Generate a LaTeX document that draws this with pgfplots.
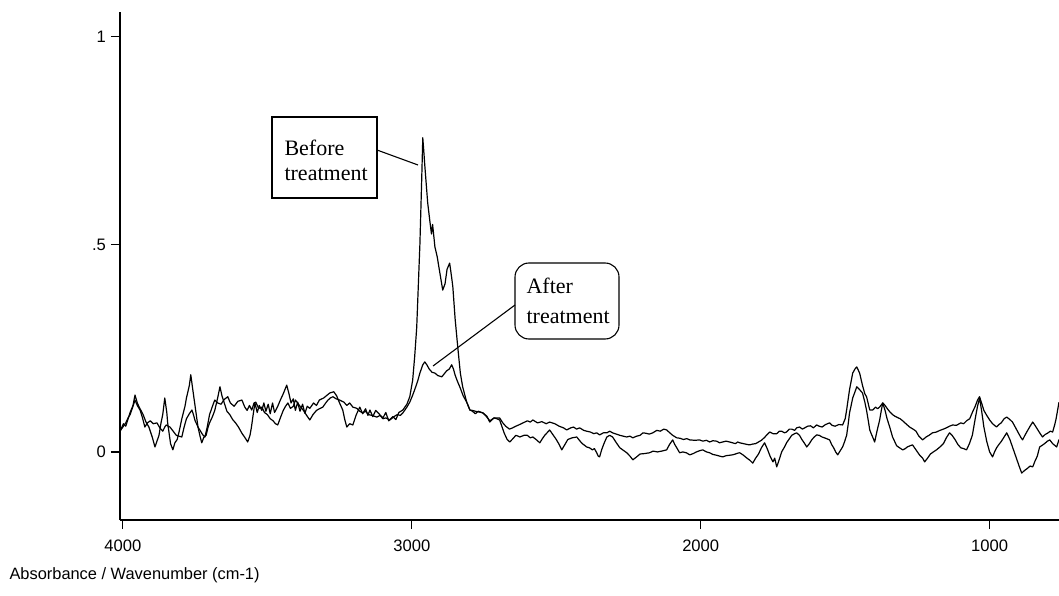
\documentclass[border=0pt]{standalone}
\usepackage{pgfplots}
\usepackage{pgfplotstable}
\pgfplotsset{compat=1.18}
\usepackage{fontspec}
\setmainfont{Liberation Serif}
\newfontfamily\arial{Liberation Sans}

% spectrum before treatment (wavenumber, absorbance)
\pgfplotstableread{
x y
4010 0.050
3998 0.068
3990 0.062
3975 0.095
3965 0.112
3958 0.137
3950 0.118
3945 0.110
3930 0.090
3920 0.072
3910 0.060
3898 0.035
3889 0.012
3875 0.040
3868 0.070
3862 0.090
3855 0.130
3848 0.095
3845 0.070
3835 0.020
3827 0.005
3820 0.022
3812 0.030
3805 0.050
3796 0.080
3785 0.110
3780 0.130
3770 0.160
3765 0.186
3758 0.150
3752 0.120
3745 0.085
3740 0.060
3733 0.038
3727 0.022
3720 0.035
3712 0.040
3705 0.060
3700 0.070
3690 0.085
3682 0.100
3672 0.130
3664 0.157
3657 0.135
3650 0.120
3640 0.098
3630 0.090
3620 0.078
3610 0.070
3600 0.060
3588 0.045
3578 0.035
3568 0.024
3560 0.040
3555 0.060
3548 0.095
3543 0.118
3535 0.095
3528 0.112
3519 0.100
3512 0.118
3505 0.098
3497 0.115
3490 0.092
3482 0.118
3475 0.095
3464 0.110
3455 0.125
3445 0.140
3433 0.161
3425 0.140
3418 0.118
3410 0.128
3403 0.100
3395 0.120
3387 0.098
3378 0.115
3370 0.093
3362 0.110
3353 0.105
3340 0.118
3330 0.112
3320 0.125
3305 0.130
3284 0.142
3270 0.145
3260 0.135
3250 0.118
3239 0.101
3232 0.078
3225 0.060
3215 0.068
3204 0.065
3192 0.090
3180 0.108
3170 0.092
3160 0.104
3152 0.088
3145 0.101
3135 0.085
3125 0.100
3111 0.090
3100 0.082
3090 0.095
3080 0.075
3066 0.085
3055 0.078
3045 0.095
3031 0.101
3017 0.115
3007 0.133
2997 0.173
2990 0.230
2983 0.300
2972 0.500
2966 0.650
2962 0.757
2958 0.720
2955 0.690
2945 0.600
2938 0.559
2932 0.525
2928 0.548
2920 0.494
2912 0.470
2905 0.440
2893 0.390
2885 0.405
2878 0.440
2869 0.455
2862 0.420
2858 0.398
2850 0.320
2841 0.253
2832 0.190
2824 0.157
2810 0.120
2799 0.101
2790 0.098
2780 0.092
2770 0.098
2754 0.094
2745 0.088
2730 0.075
2715 0.082
2696 0.082
2685 0.070
2675 0.062
2662 0.055
2651 0.058
2640 0.062
2630 0.065
2615 0.070
2600 0.075
2590 0.072
2581 0.077
2565 0.070
2550 0.073
2535 0.068
2523 0.072
2505 0.068
2490 0.062
2475 0.058
2464 0.053
2450 0.058
2440 0.060
2430 0.055
2419 0.058
2405 0.052
2395 0.050
2382 0.048
2370 0.044
2360 0.046
2350 0.041
2337 0.046
2325 0.046
2315 0.050
2305 0.046
2292 0.043
2280 0.040
2268 0.038
2256 0.036
2245 0.038
2235 0.034
2222 0.038
2210 0.040
2200 0.046
2190 0.045
2178 0.043
2166 0.046
2152 0.052
2140 0.050
2128 0.055
2118 0.053
2107 0.046
2097 0.040
2083 0.034
2072 0.033
2060 0.030
2048 0.032
2038 0.029
2020 0.028
2004 0.029
1993 0.026
1980 0.028
1969 0.024
1958 0.027
1945 0.026
1935 0.022
1924 0.024
1912 0.026
1900 0.024
1890 0.022
1880 0.020
1872 0.024
1865 0.022
1852 0.020
1840 0.018
1831 0.017
1820 0.019
1810 0.020
1800 0.024
1790 0.028
1779 0.035
1770 0.042
1761 0.048
1750 0.044
1737 0.044
1728 0.050
1720 0.050
1710 0.046
1703 0.048
1693 0.055
1685 0.055
1675 0.052
1668 0.058
1658 0.060
1648 0.055
1640 0.058
1630 0.062
1620 0.063
1610 0.058
1599 0.065
1590 0.062
1580 0.060
1568 0.066
1554 0.070
1545 0.064
1535 0.062
1522 0.066
1509 0.065
1500 0.080
1495 0.101
1485 0.150
1474 0.190
1466 0.200
1460 0.205
1450 0.190
1440 0.160
1432 0.140
1426 0.133
1415 0.101
1405 0.101
1395 0.108
1388 0.104
1381 0.108
1370 0.118
1362 0.112
1355 0.105
1345 0.096
1336 0.090
1328 0.086
1322 0.084
1310 0.080
1301 0.075
1290 0.068
1277 0.060
1265 0.055
1255 0.050
1245 0.038
1232 0.029
1220 0.036
1210 0.040
1198 0.046
1184 0.048
1172 0.052
1160 0.055
1150 0.058
1139 0.062
1128 0.065
1115 0.064
1100 0.070
1090 0.068
1080 0.075
1069 0.080
1060 0.095
1050 0.110
1042 0.125
1035 0.133
1028 0.118
1020 0.100
1010 0.088
1000 0.077
990 0.068
976 0.060
968 0.066
960 0.070
950 0.080
941 0.084
930 0.078
921 0.072
910 0.058
900 0.045
892 0.035
886 0.029
878 0.040
870 0.050
860 0.062
851 0.072
843 0.064
835 0.055
825 0.044
817 0.036
808 0.042
800 0.045
790 0.050
782 0.048
775 0.065
770 0.080
765 0.100
760 0.120
}\before

% spectrum after treatment (wavenumber, absorbance)
\pgfplotstableread{
x y
4010 0.050
4000 0.060
3990 0.070
3982 0.082
3975 0.090
3966 0.108
3958 0.125
3950 0.112
3940 0.100
3932 0.082
3924 0.060
3915 0.070
3905 0.075
3895 0.068
3882 0.070
3872 0.058
3862 0.050
3855 0.060
3850 0.065
3843 0.062
3837 0.060
3826 0.050
3815 0.040
3806 0.038
3796 0.036
3788 0.060
3780 0.080
3770 0.092
3761 0.101
3755 0.088
3750 0.075
3745 0.068
3740 0.060
3733 0.052
3727 0.045
3722 0.040
3716 0.036
3708 0.060
3700 0.090
3690 0.110
3682 0.125
3672 0.118
3660 0.115
3650 0.126
3637 0.133
3628 0.118
3615 0.110
3602 0.122
3588 0.125
3578 0.108
3570 0.100
3562 0.112
3554 0.101
3546 0.118
3540 0.120
3530 0.105
3519 0.108
3510 0.095
3500 0.090
3490 0.080
3480 0.075
3472 0.068
3464 0.065
3455 0.082
3445 0.100
3437 0.110
3429 0.118
3420 0.105
3410 0.110
3403 0.125
3395 0.118
3385 0.108
3375 0.100
3364 0.088
3353 0.077
3342 0.090
3330 0.100
3320 0.104
3308 0.108
3298 0.118
3290 0.125
3282 0.130
3273 0.133
3262 0.128
3250 0.125
3235 0.120
3225 0.112
3215 0.118
3204 0.108
3190 0.105
3180 0.098
3170 0.094
3160 0.098
3150 0.090
3138 0.088
3121 0.084
3110 0.088
3100 0.080
3090 0.082
3076 0.077
3062 0.085
3050 0.090
3040 0.088
3031 0.094
3017 0.108
3007 0.120
2998 0.135
2990 0.150
2980 0.170
2972 0.190
2962 0.210
2955 0.217
2948 0.210
2940 0.200
2930 0.192
2920 0.190
2910 0.184
2896 0.181
2888 0.188
2880 0.195
2870 0.200
2862 0.210
2856 0.200
2850 0.185
2842 0.170
2834 0.157
2822 0.135
2810 0.120
2799 0.101
2790 0.100
2780 0.098
2765 0.096
2754 0.094
2740 0.086
2730 0.072
2722 0.078
2715 0.082
2706 0.080
2696 0.077
2680 0.045
2670 0.030
2661 0.024
2650 0.032
2640 0.040
2632 0.038
2626 0.036
2612 0.040
2600 0.040
2590 0.034
2581 0.036
2570 0.030
2557 0.022
2548 0.032
2540 0.040
2532 0.046
2523 0.053
2512 0.042
2500 0.030
2490 0.018
2481 0.005
2470 0.018
2460 0.030
2445 0.034
2429 0.036
2420 0.028
2410 0.020
2402 0.016
2395 0.012
2385 0.010
2375 0.005
2368 0.008
2360 -0.002
2355 -0.010
2350 -0.012
2343 0.005
2335 0.020
2325 0.036
2315 0.040
2305 0.036
2292 0.022
2280 0.010
2268 0.004
2256 -0.002
2245 -0.010
2235 -0.019
2222 -0.012
2210 -0.005
2195 -0.004
2177 -0.002
2165 0.002
2150 0.000
2135 0.002
2118 0.005
2108 0.018
2097 0.029
2090 0.018
2083 0.010
2073 -0.002
2062 0.000
2050 -0.002
2038 -0.007
2026 -0.004
2015 0.000
2004 0.003
1993 0.005
1980 0.000
1969 -0.002
1958 -0.006
1945 -0.008
1935 -0.010
1924 -0.012
1912 -0.009
1900 -0.008
1890 -0.007
1880 -0.005
1872 -0.003
1865 -0.002
1852 -0.008
1840 -0.015
1830 -0.020
1820 -0.027
1810 -0.015
1800 -0.005
1790 0.010
1779 0.022
1770 0.008
1760 -0.010
1750 -0.024
1744 -0.015
1737 -0.036
1728 -0.018
1720 0.000
1710 0.012
1703 0.022
1693 0.032
1685 0.040
1675 0.044
1668 0.046
1658 0.040
1650 0.030
1642 0.022
1633 0.012
1624 0.020
1615 0.030
1607 0.036
1599 0.041
1590 0.040
1580 0.036
1568 0.033
1554 0.029
1547 0.018
1540 0.010
1533 0.000
1526 -0.007
1518 0.002
1509 0.012
1502 0.025
1495 0.040
1490 0.065
1485 0.094
1480 0.110
1474 0.130
1466 0.145
1460 0.157
1450 0.150
1440 0.142
1432 0.120
1426 0.100
1420 0.075
1415 0.053
1410 0.044
1405 0.036
1398 0.024
1390 0.050
1381 0.076
1375 0.100
1370 0.118
1362 0.100
1355 0.080
1345 0.058
1336 0.036
1328 0.024
1322 0.015
1312 0.010
1301 0.005
1292 0.008
1285 0.012
1275 0.015
1267 0.017
1258 0.008
1250 0.000
1242 -0.008
1232 -0.015
1225 -0.024
1215 -0.015
1205 -0.005
1195 0.000
1184 0.005
1172 0.012
1160 0.020
1150 0.034
1139 0.046
1130 0.040
1120 0.030
1110 0.018
1100 0.010
1090 0.008
1080 0.005
1070 0.020
1060 0.040
1050 0.080
1042 0.110
1035 0.130
1028 0.100
1020 0.060
1010 0.025
1000 0.000
990 -0.012
983 0.000
976 0.010
968 0.018
960 0.025
950 0.036
941 0.046
930 0.030
921 0.012
910 -0.010
900 -0.030
895 -0.040
889 -0.051
880 -0.045
870 -0.040
860 -0.034
851 -0.036
843 -0.022
835 -0.010
827 0.012
818 0.016
810 0.020
800 0.026
792 0.029
782 0.020
775 0.016
768 0.012
760 0.030
}\after

\begin{document}
\begin{tikzpicture}
\path[use as bounding box] (0,0) rectangle (529.5pt,297.5pt);
\begin{axis}[
    at={(60pt,37.5pt)}, anchor=south west,
    scale only axis,
    width=469.5pt, height=254pt,
    x dir=reverse,
    xmin=760, xmax=4010,
    ymin=-0.164, ymax=1.06,
    axis x line=bottom, axis y line=left,
    axis line style={-, line width=0.7pt},
    xtick={4000,3000,2000,1000},
    xticklabels={4000,3000,2000,1000},
    ytick={0,0.5,1},
    yticklabels={0,.5,1},
    tick align=outside,
    major tick length=4.5pt,
    tick style={line width=0.6pt, black},
    ticklabel style={font=\arial\fontsize{8.3}{10}\selectfont},
    xticklabel style={yshift=-2pt},
    yticklabel style={xshift=1pt},
    clip=false,
  ]
  \addplot[black, line width=0.6pt, line join=round] table {\before};
  \addplot[black, line width=0.6pt, line join=round] table {\after};
\end{axis}

% annotations, placed in pixel units of the reference (origin top left)
\begin{scope}[x=0.5pt, y=-0.5pt, yshift=297.5pt, line width=0.55pt]
  \draw (272,117) rectangle (377,198);
  \node[anchor=west, align=left, inner sep=0pt,
        font=\fontsize{11}{12.5}\selectfont] at (284,160) {Before\\treatment};
  \draw (377,150) -- (418,165);
  \draw[rounded corners=7pt] (515,263) rectangle (619,339);
  \node[anchor=west, align=left, inner sep=0pt,
        font=\fontsize{11}{15}\selectfont] at (526,301) {After\\treatment};
  \draw (515,305) -- (433,366);
  \node[anchor=west, inner sep=0pt, font=\arial\fontsize{8.2}{9.8}\selectfont]
    at (9,575) {Absorbance / Wavenumber (cm-1)};
\end{scope}
\end{tikzpicture}
\end{document}
